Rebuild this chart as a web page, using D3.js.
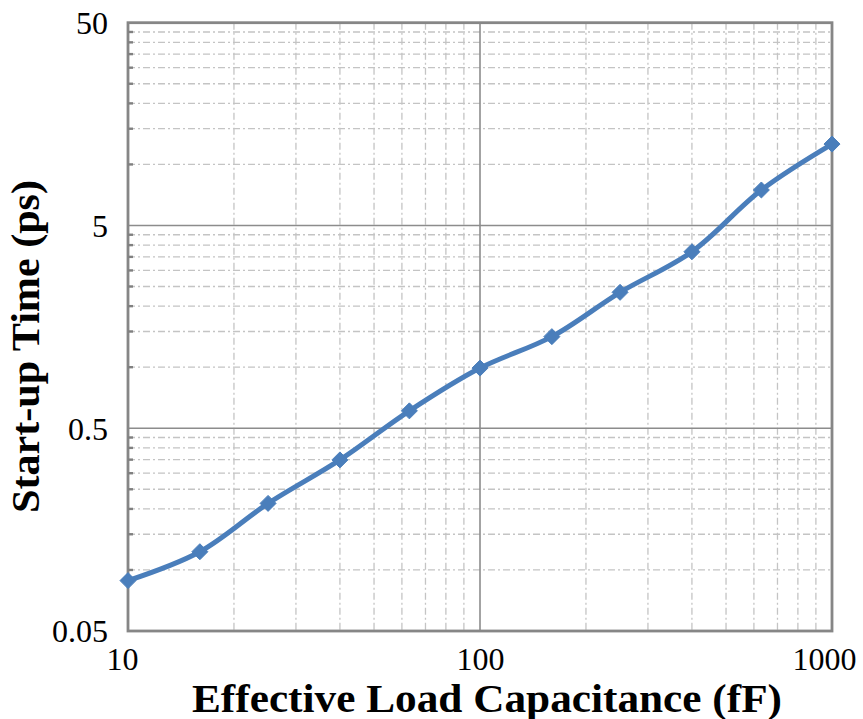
<!DOCTYPE html>
<html>
<head>
<meta charset="utf-8">
<script src="https://cdn.jsdelivr.net/npm/d3@7"></script>
<style>
  html, body { margin: 0; padding: 0; background: #ffffff; }
  svg { display: block; }
</style>
</head>
<body>
<svg id="chart" width="863" height="719"></svg>
<script>
// Start-up time versus effective load capacitance (log-log)
const capacitance = [10, 16, 25, 40, 63, 100, 160, 250, 400, 630, 1000];   // fF
const startupTime = [0.0886, 0.123, 0.213, 0.349, 0.609, 0.99, 1.415, 2.34, 3.71, 7.48, 12.6]; // ps

const xTickValues = [10, 100, 1000];
const yTickValues = [0.05, 0.5, 5, 50];
const xTickLabels = ["10", "100", "1000"];
const yTickLabels = ["0.05", "0.5", "5", "50"];

// minor grid steps within each decade
const xMinorSteps = [2, 3, 4, 5, 6, 7, 8, 9];
const yMinorSteps = [2, 3, 4, 5, 6, 7, 8, 9];

const xTitle = "Effective Load Capacitance (fF)";
const yTitle = "Start-up Time (ps)";

const svg = d3.select("#chart");
const W = 863, H = 719;
const plot = { left: 128, right: 832, top: 22.7, bottom: 631 };

const x = d3.scaleLog().domain([10, 1000]).range([plot.left, plot.right]);
const y = d3.scaleLog().domain([0.05, 50]).range([plot.bottom, plot.top]);

svg.append("rect").attr("width", W).attr("height", H).attr("fill", "#ffffff");

const xMinor = [];
xTickValues.slice(0, -1).forEach(b => xMinorSteps.forEach(s => xMinor.push(b * s)));
const yMinor = [];
yTickValues.slice(0, -1).forEach(b => yMinorSteps.forEach(s => yMinor.push(b * s)));

const grid = svg.append("g");
const dashStyle = "7,3,2,3";
grid.selectAll("line.vminor").data(xMinor).join("line")
  .attr("x1", d => x(d)).attr("x2", d => x(d))
  .attr("y1", plot.top).attr("y2", plot.bottom)
  .attr("stroke", "#c4c4c4").attr("stroke-width", 1.3)
  .attr("stroke-dasharray", dashStyle);
grid.selectAll("line.hminor").data(yMinor).join("line")
  .attr("x1", plot.left).attr("x2", plot.right)
  .attr("y1", d => y(d)).attr("y2", d => y(d))
  .attr("stroke", "#c4c4c4").attr("stroke-width", 1.3)
  .attr("stroke-dasharray", dashStyle);

// major grid lines
grid.selectAll("line.vmajor").data(xTickValues.slice(1, -1)).join("line")
  .attr("x1", d => x(d)).attr("x2", d => x(d))
  .attr("y1", plot.top).attr("y2", plot.bottom)
  .attr("stroke", "#8c8c8c").attr("stroke-width", 1.6);
grid.selectAll("line.hmajor").data(yTickValues.slice(1, -1)).join("line")
  .attr("x1", plot.left).attr("x2", plot.right)
  .attr("y1", d => y(d)).attr("y2", d => y(d))
  .attr("stroke", "#8c8c8c").attr("stroke-width", 1.6);

// plot frame
svg.append("rect")
  .attr("x", plot.left).attr("y", plot.top)
  .attr("width", plot.right - plot.left).attr("height", plot.bottom - plot.top)
  .attr("fill", "none").attr("stroke", "#868686").attr("stroke-width", 2.8);

// inner minor ticks on the y axis
svg.append("g").selectAll("line").data(yMinor).join("line")
  .attr("x1", plot.left).attr("x2", plot.left + 5)
  .attr("y1", d => y(d)).attr("y2", d => y(d))
  .attr("stroke", "#808080").attr("stroke-width", 2.4);

// axes labels
const tickFont = "'Liberation Serif', 'Times New Roman', serif";
const yAxis = d3.axisLeft(y).tickValues(yTickValues)
  .tickFormat((d, i) => yTickLabels[i]).tickSize(0).tickPadding(20);
const gy = svg.append("g").attr("transform", `translate(${plot.left},0)`).call(yAxis);
gy.select(".domain").remove();
gy.selectAll("text").attr("font-family", tickFont).attr("font-size", 32)
  .attr("fill", "#000").attr("dy", "0.34em");

const xAxis = d3.axisBottom(x).tickValues(xTickValues)
  .tickFormat((d, i) => xTickLabels[i]).tickSize(0).tickPadding(16);
const gx = svg.append("g").attr("transform", `translate(0,${plot.bottom})`).call(xAxis);
gx.select(".domain").remove();
gx.selectAll("text").attr("font-family", tickFont).attr("font-size", 32)
  .attr("fill", "#000").attr("dy", "0.71em")
  .attr("dx", (d, i) => i === 0 ? -6 : (i === xTickValues.length - 1 ? -8 : 0));

// axis titles (bold, wide serif)
svg.append("text")
  .attr("x", 192).attr("y", 712)
  .attr("textLength", 590).attr("lengthAdjust", "spacingAndGlyphs")
  .attr("font-family", tickFont).attr("font-weight", "bold").attr("font-size", 39)
  .attr("fill", "#000").text(xTitle);
svg.append("text")
  .attr("transform", "translate(39,513) rotate(-90)")
  .attr("textLength", 333).attr("lengthAdjust", "spacingAndGlyphs")
  .attr("font-family", tickFont).attr("font-weight", "bold").attr("font-size", 39)
  .attr("fill", "#000").text(yTitle);

// data series
const pts = capacitance.map((c, i) => [x(c), y(startupTime[i])]);
const blue = "#4A7EBB";
svg.append("path")
  .attr("d", d3.line().curve(d3.curveCatmullRom.alpha(0.5))(pts))
  .attr("fill", "none").attr("stroke", blue).attr("stroke-width", 5)
  .attr("stroke-linejoin", "round").attr("stroke-linecap", "round");

svg.append("g").selectAll("path").data(capacitance).join("path")
  .attr("transform", (c, i) => `translate(${x(c)},${y(startupTime[i])})`)
  .attr("d", "M0,-8 L8,0 L0,8 L-8,0 Z")
  .attr("fill", blue).attr("stroke", blue).attr("stroke-width", 1);
</script>
</body>
</html>
